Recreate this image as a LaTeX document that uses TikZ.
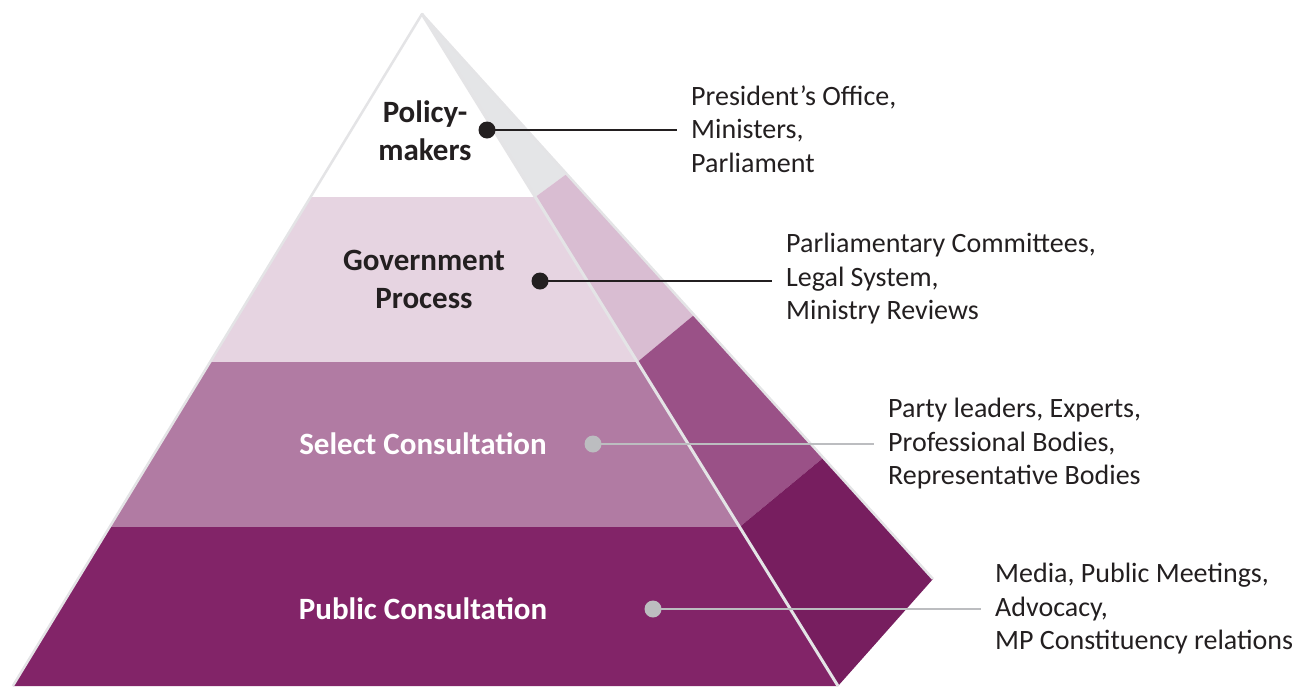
\documentclass[tikz,border=0pt]{standalone}
\usepackage{fontspec}
\setmainfont{Carlito}
\begin{document}
\begin{tikzpicture}[x=1pt,y=-1pt,
  lvltext/.style={font=\fontsize{31}{38}\selectfont\bfseries, align=center, text=inkdark},
  desc/.style={font=\fontsize{28}{33.5}\selectfont, align=left, anchor=west, text=inkdark, inner xsep=14pt},
  darkdot/.style={circle, fill=inkdark, inner sep=0pt, minimum size=17pt},
  greydot/.style={circle, fill=dotgrey, inner sep=0pt, minimum size=17pt},
  darkline/.style={draw=inkdark, line width=2.5pt},
  greyline/.style={draw=dotgrey, line width=2.5pt},
  edge/.style={draw=edgegrey, line width=2.5pt, line join=round}]
\definecolor{inkdark}{HTML}{231F20}
\definecolor{dotgrey}{HTML}{BCBDC0}
\definecolor{edgegrey}{HTML}{E4E4E6}
\definecolor{sideA}{HTML}{E4E5E7}
\definecolor{frontB}{HTML}{E6D4E1}
\definecolor{sideB}{HTML}{D9BDD2}
\definecolor{frontC}{HTML}{B17BA3}
\definecolor{sideC}{HTML}{9A5187}
\definecolor{frontD}{HTML}{822468}
\definecolor{sideD}{HTML}{771E5F}
\useasboundingbox (0,0) rectangle (1306,686);
\begin{scope}
\clip (0,0) rectangle (1306,686);
% front face, one band per level
\fill[white]  (422,14) -- (310.6,197) -- (535.3,197) -- cycle;
\fill[frontB] (310.6,197) -- (210.1,362) -- (637.4,362) -- (535.3,197) -- cycle;
\fill[frontC] (210.1,362) -- (109.6,527) -- (739.5,527) -- (637.4,362) -- cycle;
\fill[frontD] (109.6,527) -- (12.8,686) -- (838,686) -- (739.5,527) -- cycle;
% side face
\fill[sideA] (422,14) -- (535.3,197) -- (566.6,174) -- cycle;
\fill[sideB] (535.3,197) -- (637.4,362) -- (694,315) -- (566.6,174) -- cycle;
\fill[sideC] (637.4,362) -- (739.5,527) -- (823,458) -- (694,315) -- cycle;
\fill[sideD] (739.5,527) -- (838,686) -- (933,579) -- (823,458) -- cycle;
% outline
\draw[edge] (12.8,686) -- (422,14) -- (933,579);
\draw[edge, line width=3pt] (422,14) -- (838,686);
\end{scope}
% level titles
\node[lvltext] (pm) at (425,131) {Policy-\\makers};
\node[lvltext] (gp) at (424,279) {Government\\Process};
\node[lvltext, text=white] (sc) at (423,444) {Select Consultation};
\node[lvltext, text=white] (pc) at (423,609) {Public Consultation};
% dots
\node[darkdot] (d1) at (487,130) {};
\node[darkdot] (d2) at (540,281) {};
\node[greydot] (d3) at (593,444) {};
\node[greydot] (d4) at (653,609) {};
% descriptions
\node[desc] (t1) at (677,129) {President’s Office,\\Ministers,\\Parliament};
\node[desc] (t2) at (772,279) {Parliamentary Committees,\\Legal System,\\Ministry Reviews};
\node[desc] (t3) at (874,444) {Party leaders, Experts,\\Professional Bodies,\\Representative Bodies};
\node[desc] (t4) at (981,609) {Media, Public Meetings,\\Advocacy,\\MP Constituency relations};
% connectors
\draw[darkline] (d1.center) -- (d1 -| t1.west);
\draw[darkline] (d2.center) -- (d2 -| t2.west);
\draw[greyline] (d3.center) -- (d3 -| t3.west);
\draw[greyline] (d4.center) -- (d4 -| t4.west);
\end{tikzpicture}
\end{document}
